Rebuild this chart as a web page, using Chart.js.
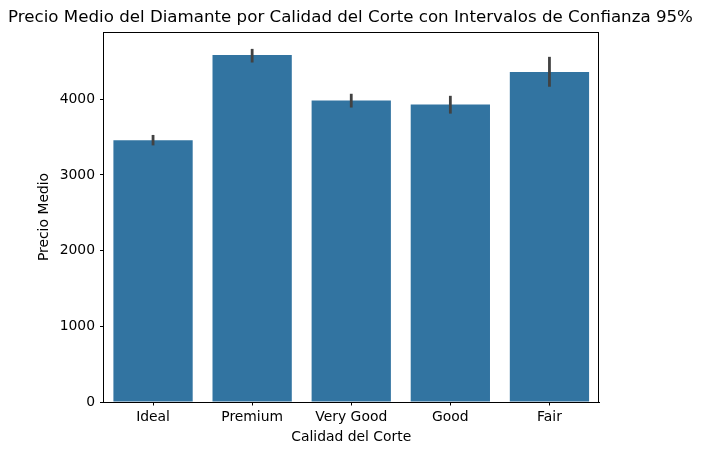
<!DOCTYPE html>
<html>
<head>
<meta charset="utf-8">
<script src="https://cdn.jsdelivr.net/npm/chart.js@4"></script>
<style>
html,body{margin:0;padding:0;background:#fff;}
#wrap{width:701px;height:455px;position:relative;}
</style>
</head>
<body>
<div id="wrap"><canvas id="c" width="701" height="455"></canvas></div>
<script>
const categories = ["Ideal", "Premium", "Very Good", "Good", "Fair"];
const meanPrice = [3457.5, 4584.3, 3981.8, 3928.9, 4358.8];
const ciLow = [3390, 4485, 3890, 3810, 4165];
const ciHigh = [3528, 4665, 4072, 4045, 4560];
const yTickValues = [0, 1000, 2000, 3000, 4000];
const yMax = 4888;

const FONT = "'DejaVu Sans', sans-serif";

const framePlugin = {
  id: 'frame',
  afterDatasetsDraw(chart) {
    const ctx = chart.ctx;
    const y = chart.scales.y;
    const meta = chart.getDatasetMeta(0);
    ctx.save();
    ctx.strokeStyle = '#424242';
    ctx.lineWidth = 2.8;
    ctx.lineCap = 'butt';
    meta.data.forEach((bar, i) => {
      const px = bar.x;
      ctx.beginPath();
      ctx.moveTo(px, y.getPixelForValue(ciLow[i]));
      ctx.lineTo(px, y.getPixelForValue(ciHigh[i]));
      ctx.stroke();
    });
    ctx.restore();
  },
  afterDraw(chart) {
    const a = chart.chartArea, ctx = chart.ctx;
    ctx.save();
    ctx.strokeStyle = '#000';
    ctx.lineWidth = 1;
    ctx.beginPath();
    ctx.moveTo(a.left, a.top + 0.5);
    ctx.lineTo(a.right, a.top + 0.5);
    ctx.moveTo(a.right - 0.5, a.top);
    ctx.lineTo(a.right - 0.5, a.bottom);
    ctx.stroke();
    ctx.restore();
  }
};

new Chart(document.getElementById('c'), {
  type: 'bar',
  data: {
    labels: categories,
    datasets: [{
      data: meanPrice,
      backgroundColor: '#3274a1',
      borderWidth: 0,
      categoryPercentage: 0.8,
      barPercentage: 1.0
    }]
  },
  options: {
    responsive: false,
    animation: false,
    devicePixelRatio: 1,
    layout: { padding: 0 },
    plugins: {
      legend: { display: false },
      tooltip: { enabled: false },
      title: {
        display: true,
        text: 'Precio Medio del Diamante por Calidad del Corte con Intervalos de Confianza 95%',
        color: '#000',
        font: { family: FONT, size: 16.67, weight: 'normal', lineHeight: 1.2 },
        padding: { top: 8, bottom: 4 }
      }
    },
    scales: {
      x: {
        offset: true,
        grid: { display: true, offset: false, drawOnChartArea: false, drawTicks: true, tickLength: 3.5, color: '#000', lineWidth: 1 },
        border: { display: true, color: '#000', width: 1 },
        ticks: { color: '#000', font: { family: FONT, size: 13.9 }, padding: 4, maxRotation: 0, autoSkip: false },
        title: {
          display: true, text: 'Calidad del Corte', color: '#000',
          font: { family: FONT, size: 13.9, lineHeight: 1.2 },
          padding: { top: 0, bottom: 9.5 }
        },
        afterFit(scale) { scale.height = 53; }
      },
      y: {
        min: 0,
        max: yMax,
        grid: { display: true, drawOnChartArea: false, drawTicks: true, tickLength: 3.5, color: '#000', lineWidth: 1 },
        border: { display: true, color: '#000', width: 1 },
        ticks: { color: '#000', font: { family: FONT, size: 13.9 }, padding: 5, callback: (v) => String(v) },
        afterBuildTicks(scale) { scale.ticks = yTickValues.map(v => ({ value: v })); },
        title: {
          display: true, text: 'Precio Medio', color: '#000',
          font: { family: FONT, size: 13.9, lineHeight: 1.2 },
          padding: { top: 36.5, bottom: 0 }
        },
        afterFit(scale) { scale.width = 103.5; }
      },
      yRight: {
        position: 'right',
        display: true,
        min: 0,
        max: yMax,
        grid: { display: false, drawTicks: false },
        border: { display: false },
        ticks: { display: false },
        afterFit(scale) { scale.width = 102; }
      }
    }
  },
  plugins: [framePlugin]
});
</script>
</body>
</html>
